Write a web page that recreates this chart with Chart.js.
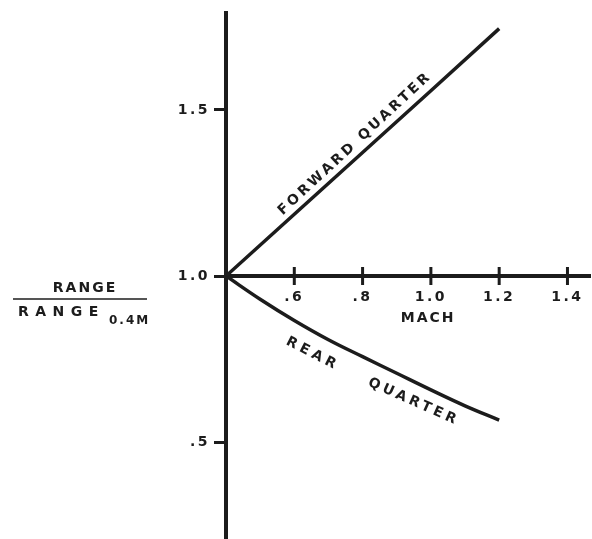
<!DOCTYPE html>
<html>
<head>
<meta charset="utf-8">
<script src="https://cdn.jsdelivr.net/npm/chart.js@4"></script>
<style>
  html, body { margin: 0; padding: 0; background: #fff; }
  canvas { display: block; }
</style>
</head>
<body>
<canvas id="machChart" width="592" height="539"></canvas>
<script>
// range ratio vs. Mach, normalised to the range at 0.4 M
const machForward = [0.4, 0.6, 0.8, 1.0, 1.2];
const rangeForward = [1.0, 1.186, 1.372, 1.558, 1.745];

const machRear = [0.4, 0.5, 0.6, 0.7, 0.8, 0.9, 1.0, 1.1, 1.2];
const rangeRear = [1.0, 0.930, 0.866, 0.808, 0.757, 0.707, 0.657, 0.609, 0.566];

const machTicks = [0.6, 0.8, 1.0, 1.2, 1.4];
const rangeTicks = [0.5, 1.0, 1.5];

const ink = '#1c1c1c';
const face = '"DejaVu Sans", sans-serif';
const crossAt = 1.0;
const yAxisWidth = 60;

// captions along the curves, placed in data units
const notes = [
  { text: 'FORWARD QUARTER', x: 0.775, y: 1.396, angle: -42.8, spacing: 3 },
  { text: 'REAR', x: 0.649, y: 0.768, angle: 27, spacing: 4 },
  { text: 'QUARTER', x: 0.945, y: 0.623, angle: 24, spacing: 3.5 },
  { text: 'MACH', x: 0.989, y: 0.873, angle: 0, spacing: 2 }
];

function pairs(xs, ys) {
  return xs.map((x, i) => ({ x: x, y: ys[i] }));
}

function fmt(v) {
  return v.toFixed(1).replace(/^0\./, '.');
}

function noPadding(scale) {
  scale.paddingLeft = 0;
  scale.paddingRight = 0;
  scale.paddingTop = 0;
  scale.paddingBottom = 0;
}

const spacedTicks = {
  id: 'spacedTicks',
  beforeDraw(chart) {
    chart.ctx.letterSpacing = '2.5px';
  }
};

// x ticks cross the axis on both sides, plus the captions and the y-axis fraction
const decorations = {
  id: 'decorations',
  afterDraw(chart) {
    const ctx = chart.ctx;
    const xs = chart.scales.x;
    const ys = chart.scales.y;
    const y0 = ys.getPixelForValue(crossAt);

    ctx.save();
    ctx.strokeStyle = ink;
    ctx.lineWidth = 3;
    xs.ticks.forEach(t => {
      const px = xs.getPixelForValue(t.value);
      ctx.beginPath();
      ctx.moveTo(px, y0 - 9);
      ctx.lineTo(px, y0 + 9);
      ctx.stroke();
    });

    ctx.fillStyle = ink;
    ctx.font = 'bold 14px ' + face;
    ctx.textAlign = 'center';
    ctx.textBaseline = 'middle';
    notes.forEach(n => {
      ctx.save();
      ctx.letterSpacing = n.spacing + 'px';
      ctx.translate(xs.getPixelForValue(n.x), ys.getPixelForValue(n.y));
      ctx.rotate(n.angle * Math.PI / 180);
      ctx.fillText(n.text, n.spacing / 2, 0);
      ctx.restore();
    });

    // RANGE / RANGE 0.4M
    ctx.letterSpacing = '2px';
    ctx.fillText('RANGE', 85, 288);
    ctx.lineWidth = 1.5;
    ctx.beginPath();
    ctx.moveTo(13, 299);
    ctx.lineTo(147, 299);
    ctx.stroke();
    ctx.textAlign = 'left';
    ctx.letterSpacing = '6.5px';
    ctx.fillText('RANGE', 18, 312);
    ctx.letterSpacing = '2px';
    ctx.font = 'bold 12px ' + face;
    ctx.fillText('0.4M', 109, 321);
    ctx.restore();
  }
};

new Chart(document.getElementById('machChart'), {
  type: 'line',
  data: {
    datasets: [{
      label: 'Forward quarter',
      data: pairs(machForward, rangeForward),
      borderColor: ink,
      borderWidth: 3.5,
      pointRadius: 0,
      tension: 0
    }, {
      label: 'Rear quarter',
      data: pairs(machRear, rangeRear),
      borderColor: ink,
      borderWidth: 3.5,
      pointRadius: 0,
      tension: 0.4
    }]
  },
  options: {
    responsive: false,
    animation: false,
    layout: { padding: { left: 226 - yAxisWidth, right: 2, top: 13, bottom: 0 } },
    plugins: {
      legend: { display: false },
      tooltip: { enabled: false }
    },
    scales: {
      x: {
        type: 'linear',
        position: { y: crossAt },
        min: 0.4,
        max: 1.466,
        afterBuildTicks: s => { s.ticks = machTicks.map(v => ({ value: v })); },
        afterFit: noPadding,
        grid: { display: false, drawTicks: true, tickLength: 9 },
        border: { display: true, width: 4, color: ink },
        ticks: {
          color: ink,
          padding: 4,
          maxRotation: 0,
          font: { family: face, size: 14, weight: 'bold' },
          callback: v => fmt(v)
        }
      },
      y: {
        type: 'linear',
        position: 'left',
        min: 0.208,
        max: 1.792,
        afterBuildTicks: s => { s.ticks = rangeTicks.map(v => ({ value: v })); },
        afterFit: s => { noPadding(s); s.width = yAxisWidth; },
        grid: {
          display: true,
          drawOnChartArea: false,
          drawTicks: true,
          tickLength: 12,
          tickWidth: 3,
          color: ink
        },
        border: { display: true, width: 4, color: ink },
        ticks: {
          color: ink,
          padding: 4,
          font: { family: face, size: 14, weight: 'bold' },
          callback: v => fmt(v)
        }
      }
    }
  },
  plugins: [spacedTicks, decorations]
});
</script>
</body>
</html>
